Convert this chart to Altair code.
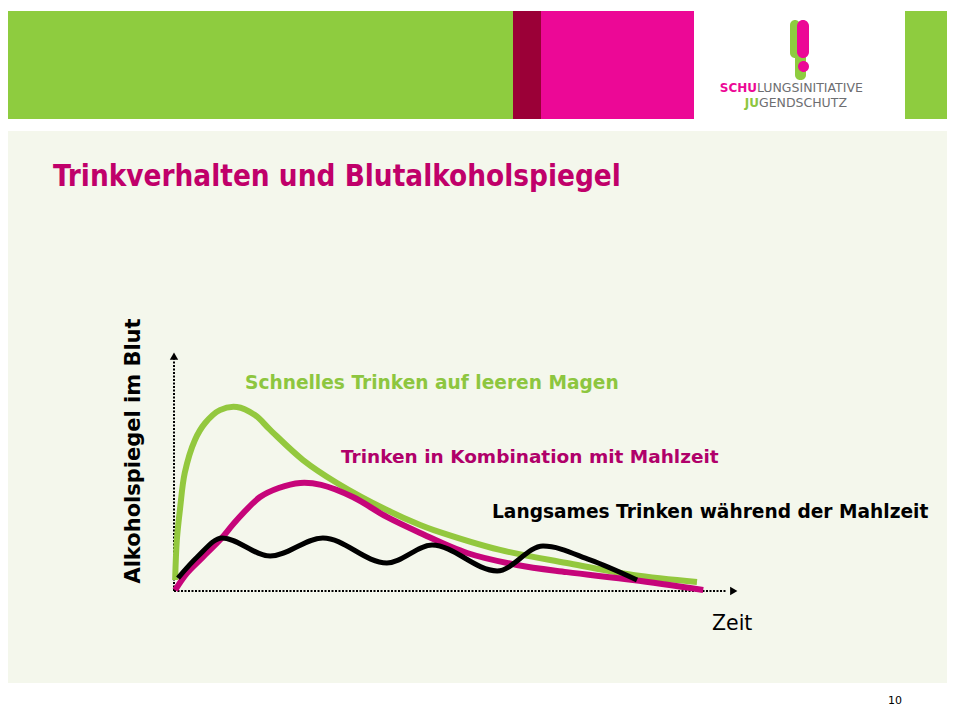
import altair as alt
import pandas as pd

# ---------------- data ----------------
# x: Zeit (arbitrary units, 0 = origin, 10 = arrow tip); y: Alkoholspiegel (0 = origin, 10 = arrow tip)
green_t = [0.02, 0.05, 0.11, 0.19, 0.37, 0.55, 0.81, 1.11, 1.43, 1.70, 2.28, 2.88, 3.76, 4.35, 4.59, 5.76, 6.94, 8.11, 9.24]
green_v = [0.46, 2.13, 3.51, 4.94, 6.32, 7.03, 7.57, 7.70, 7.36, 6.74, 5.48, 4.52, 3.39, 2.76, 2.55, 1.72, 1.17, 0.67, 0.38]

magenta_t = [0.02, 0.23, 0.51, 0.81, 1.11, 1.52, 1.85, 2.23, 2.60, 3.16, 3.76, 4.35, 5.18, 6.06, 6.94, 8.11, 9.35]
magenta_v = [0.04, 0.75, 1.42, 2.13, 2.97, 3.93, 4.31, 4.52, 4.44, 3.93, 3.10, 2.43, 1.59, 1.09, 0.79, 0.46, 0.04]

black_t = [0.07, 0.41, 0.85, 1.70, 2.63, 3.76, 4.56, 5.71, 6.52, 7.35, 8.18]
black_v = [0.54, 1.42, 2.22, 1.46, 2.22, 1.17, 1.92, 0.84, 1.88, 1.30, 0.46]

series_labels = [
    "Schnelles Trinken auf  leeren Magen",
    "Trinken in Kombination mit Mahlzeit",
    "Langsames Trinken während der Mahlzeit",
]
title_text = "Trinkverhalten und Blutalkoholspiegel"
y_label = "Alkoholspiegel im Blut"
x_label = "Zeit"
page_no = "10"

axis_x_end = [9.75]       # dotted x-axis runs to here
axis_y_end = [9.70]
arrow_x = [9.89]
arrow_y = [9.83]

# ---------------- layout ----------------
W, H = 944, 700
PX_T = 56.6     # pixels per x unit
PX_V = 23.9     # pixels per y unit
ORIG_X = 174 - 8
ORIG_Y = 591 - 8
x_dom = [-ORIG_X / PX_T, (W - ORIG_X) / PX_T]
y_dom = [-(H - ORIG_Y) / PX_V, ORIG_Y / PX_V]

xs = alt.Scale(domain=x_dom, nice=False, zero=False)
ys = alt.Scale(domain=y_dom, nice=False, zero=False)

def P(v):  # page px -> chart px
    return v - 8

one = alt.Data(values=[{"a": 1}])

def rect(x1, x2, y1, y2, color, radius=0):
    return alt.Chart(one).mark_rect(color=color, cornerRadius=radius).encode(
        x=alt.value(P(x1)), x2=alt.value(P(x2)), y=alt.value(P(y1)), y2=alt.value(P(y2))
    )

def text(t, x, y, size, color, weight="normal", font="DejaVu Sans", align="left", baseline="middle", angle=0):
    kw = dict(text=t, fontSize=size, color=color, fontWeight=weight, font=font,
              align=align, baseline=baseline)
    if angle:
        kw["angle"] = angle
    return alt.Chart(one).mark_text(**kw).encode(x=alt.value(P(x)), y=alt.value(P(y)))

HEAD_GREEN = "#8ECC3F"
DARK_RED = "#9B0037"
MAGENTA = "#EC0896"
PANEL = "#F4F7EC"
CURVE_GREEN = "#93C83E"
CURVE_MAGENTA = "#C6057A"
GRAY = "#6D6E71"

deco = [
    rect(4, 947, 131, 683, PANEL),
    rect(4, 513, 11, 119, HEAD_GREEN),
    rect(513, 541, 11, 119, DARK_RED),
    rect(541, 694, 11, 119, MAGENTA),
    rect(905, 947, 11, 119, HEAD_GREEN),
    # logo "!"
    rect(790, 800, 20, 58, HEAD_GREEN, 5),
    rect(795, 806, 52, 80, HEAD_GREEN, 5),
    rect(797, 809, 20, 58, MAGENTA, 6),
    rect(798, 809, 61, 72, MAGENTA, 6),
    text("SCHU", 757, 88, 12, MAGENTA, "bold", align="right"),
    text("LUNGSINITIATIVE", 757, 88, 12.5, GRAY, "normal"),
    text("JU", 759, 103, 12, "#8DC63F", "bold", align="right"),
    text("GENDSCHUTZ", 759, 103, 12.5, GRAY, "normal"),
    # title
    text(title_text, 53, 186, 29.4, "#C0006A", "bold", "DejaVu Sans Condensed", baseline="alphabetic"),
    # axis labels
    text(y_label, 134, 451, 21, "black", "bold", align="center", angle=270),
    text(x_label, 712, 624, 20.5, "black"),
    text(page_no, 895, 701, 11, "black", align="center"),
    # series labels
    text(series_labels[0], 245, 383, 18.6, "#8DC63F", "bold"),
    text(series_labels[1], 341, 457, 18.5, "#B0006A", "bold"),
    text(series_labels[2], 492, 512, 18.6, "black", "bold"),
]

# axes (dotted, with arrow heads)
ax_x = alt.Chart(pd.DataFrame({"t0": [0.0], "t1": axis_x_end, "v": [0.0]})).mark_rule(
    color="black", strokeWidth=2, strokeDash=[2, 1.5]
).encode(x=alt.X("t0:Q", scale=xs, axis=None), x2="t1", y=alt.Y("v:Q", scale=ys, axis=None))
ax_y = alt.Chart(pd.DataFrame({"t": [0.0], "v0": [0.0], "v1": axis_y_end})).mark_rule(
    color="black", strokeWidth=2, strokeDash=[2, 1.5]
).encode(x=alt.X("t:Q", scale=xs, axis=None), y=alt.Y("v0:Q", scale=ys, axis=None), y2="v1")
arr_x = alt.Chart(pd.DataFrame({"t": arrow_x, "v": [0.0]})).mark_point(
    shape="triangle-right", filled=True, color="black", size=70, opacity=1
).encode(x=alt.X("t:Q", scale=xs, axis=None), y=alt.Y("v:Q", scale=ys, axis=None))
arr_y = alt.Chart(pd.DataFrame({"t": [0.0], "v": arrow_y})).mark_point(
    shape="triangle-up", filled=True, color="black", size=70, opacity=1
).encode(x=alt.X("t:Q", scale=xs, axis=None), y=alt.Y("v:Q", scale=ys, axis=None))

def curve(t, v, color, width, interp):
    df = pd.DataFrame({"t": t, "v": v})
    return alt.Chart(df).mark_line(color=color, strokeWidth=width, interpolate=interp,
                                   strokeCap="butt", strokeJoin="round").encode(
        x=alt.X("t:Q", scale=xs, axis=None), y=alt.Y("v:Q", scale=ys, axis=None), order="t:Q"
    )

lines = [
    curve(green_t, green_v, CURVE_GREEN, 6, "catmull-rom"),
    curve(magenta_t, magenta_v, CURVE_MAGENTA, 6, "catmull-rom"),
    curve(black_t, black_v, "black", 5, "monotone"),
]

chart = alt.layer(*deco, ax_x, ax_y, arr_x, arr_y, *lines).properties(
    width=W, height=H, padding=0, autosize=alt.AutoSizeParams(type="none"), background="white"
).configure_view(stroke=None)

chart.save("out.html", embed_options={"renderer": "svg", "actions": False})
